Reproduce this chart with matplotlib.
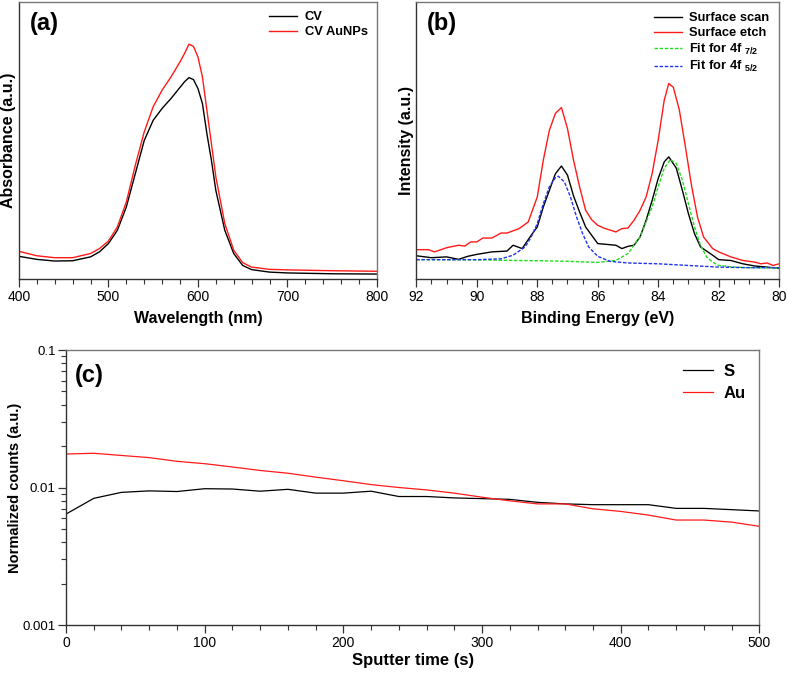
import numpy as np
import matplotlib
matplotlib.use("Agg")
import matplotlib.pyplot as plt
from matplotlib.ticker import MultipleLocator, LogLocator, FixedFormatter, NullFormatter, FixedLocator

plt.rcParams['font.family'] = ['Liberation Sans', 'DejaVu Sans']
plt.rcParams['mathtext.fontset'] = 'custom'
plt.rcParams['mathtext.bf'] = 'Liberation Sans:bold'
plt.rcParams['mathtext.rm'] = 'Liberation Sans'

# (a) UV-vis absorbance
wl = [400, 420, 440, 460, 480, 490, 500, 510, 520, 530, 540, 550, 560, 570, 580,
      585, 590, 595, 600, 605, 610, 615, 620, 630, 640, 650, 660, 680, 700, 750, 800]
abs_cv = [0.082, 0.071, 0.065, 0.066, 0.080, 0.098, 0.128, 0.176, 0.26, 0.38, 0.50,
          0.573, 0.616, 0.652, 0.692, 0.712, 0.727, 0.72, 0.688, 0.634, 0.525, 0.43,
          0.32, 0.176, 0.092, 0.049, 0.034, 0.025, 0.022, 0.019, 0.018]
abs_aunp = [0.100, 0.084, 0.077, 0.077, 0.092, 0.110, 0.137, 0.188, 0.278, 0.41, 0.531,
            0.622, 0.682, 0.730, 0.784, 0.814, 0.848, 0.84, 0.802, 0.73, 0.61, 0.49,
            0.369, 0.20, 0.104, 0.059, 0.043, 0.035, 0.033, 0.030, 0.028]

# (b) XPS Au 4f
be_scan = [92, 91.5, 91, 90.6, 90.3, 90, 89.5, 89, 88.8, 88.5, 88.2, 88, 87.8, 87.6,
           87.4, 87.2, 87.0, 86.8, 86.6, 86.4, 86.0, 85.6, 85.4, 85.2, 85.0, 84.8,
           84.6, 84.4, 84.2, 84.0, 83.8, 83.65, 83.4, 83.2, 83.0, 82.8, 82.6, 82.2,
           82.0, 81.6, 81.2, 80.8, 80.4, 80.0]
i_scan = [0.084, 0.077, 0.080, 0.071, 0.082, 0.089, 0.098, 0.101, 0.122, 0.110, 0.158,
          0.188, 0.26, 0.32, 0.38, 0.408, 0.375, 0.30, 0.242, 0.188, 0.128, 0.124,
          0.122, 0.110, 0.118, 0.122, 0.152, 0.212, 0.284, 0.363, 0.423, 0.441, 0.40,
          0.32, 0.236, 0.164, 0.116, 0.086, 0.070, 0.067, 0.055, 0.047, 0.043, 0.039]
be_etch = [92, 91.6, 91.4, 91.0, 90.6, 90.4, 90.2, 90.0, 89.8, 89.5, 89.2, 89.0, 88.6,
           88.3, 88.0, 87.8, 87.6, 87.4, 87.2, 87.0, 86.8, 86.6, 86.4, 86.2, 86.0,
           85.8, 85.4, 85.2, 85.0, 84.8, 84.6, 84.4, 84.2, 84.0, 83.8, 83.65, 83.5,
           83.3, 83.1, 82.9, 82.7, 82.5, 82.2, 82.0, 81.6, 81.2, 80.8, 80.6, 80.4,
           80.2, 80.0]
i_etch = [0.106, 0.106, 0.098, 0.113, 0.122, 0.119, 0.134, 0.134, 0.148, 0.148, 0.166,
          0.166, 0.182, 0.206, 0.296, 0.429, 0.537, 0.598, 0.619, 0.543, 0.429, 0.333,
          0.248, 0.214, 0.194, 0.184, 0.170, 0.182, 0.184, 0.212, 0.248, 0.296, 0.381,
          0.501, 0.646, 0.706, 0.692, 0.61, 0.477, 0.339, 0.224, 0.152, 0.110, 0.098,
          0.080, 0.067, 0.061, 0.055, 0.058, 0.049, 0.055]
be_fit72 = [92, 90, 88, 87, 86, 85.4, 85.0, 84.6, 84.2, 84.0, 83.8, 83.6, 83.4, 83.2,
            83.0, 82.8, 82.6, 82.4, 82.2, 82.0, 81.5, 81.0, 80.0]
i_fit72 = [0.070, 0.069, 0.066, 0.064, 0.060, 0.067, 0.092, 0.152, 0.26, 0.333, 0.40,
           0.431, 0.417, 0.357, 0.272, 0.188, 0.122, 0.080, 0.061, 0.049, 0.043, 0.041,
           0.040]
be_fit52 = [92, 90, 89.2, 88.8, 88.4, 88.2, 88.0, 87.8, 87.6, 87.4, 87.3, 87.1, 86.9,
            86.7, 86.5, 86.3, 86.0, 85.6, 85.0, 84.0, 83.0, 82.0, 81.0, 80.0]
i_fit52 = [0.070, 0.070, 0.073, 0.086, 0.116, 0.152, 0.20, 0.272, 0.333, 0.366, 0.371,
           0.35, 0.296, 0.224, 0.164, 0.116, 0.082, 0.064, 0.058, 0.055, 0.049, 0.043,
           0.041, 0.041]

# (c) depth profile
t_sputter = [0, 20, 40, 60, 80, 100, 120, 140, 160, 180, 200, 220, 240, 260, 280, 300,
             320, 340, 360, 380, 400, 420, 440, 460, 480, 500]
counts_s = [0.00641, 0.00834, 0.00922, 0.00945, 0.00935, 0.0098, 0.00975, 0.0094,
            0.0097, 0.0091, 0.0091, 0.0094, 0.0086, 0.0086, 0.0084, 0.0083, 0.0082,
            0.0078, 0.0076, 0.0075, 0.0075, 0.0075, 0.00705, 0.00705, 0.0069, 0.00675]
counts_au = [0.01752, 0.01774, 0.0171, 0.0165, 0.0155, 0.0149, 0.0141, 0.0133, 0.0127,
             0.0119, 0.0112, 0.0105, 0.0100, 0.0096, 0.0091, 0.0085, 0.0080, 0.0076,
             0.0076, 0.0070, 0.0067, 0.0063, 0.0058, 0.0058, 0.0056, 0.00522]


def style_frame(ax):
    ax.spines['top'].set_color('#777777')
    ax.spines['right'].set_color('#777777')
    ax.spines['left'].set_color('#333333')
    ax.spines['bottom'].set_color('#333333')
    for s in ax.spines.values():
        s.set_linewidth(1.0)
    ax.tick_params(axis='x', which='major', direction='out', length=6, width=0.9,
                   top=False, labelsize=10, pad=2, colors='#333333', labelcolor='black')
    ax.tick_params(axis='x', which='minor', direction='out', length=3.5, width=0.8,
                   top=False, colors='#333333')


fig = plt.figure(figsize=(7.87, 6.74), dpi=100)

# ---- (a)
ax1 = fig.add_axes([0.024, 0.586, 0.455, 0.411])
ax1.plot(wl, abs_cv, color='black', lw=1.0, label='CV')
ax1.plot(wl, abs_aunp, color='#ff1a1a', lw=1.0, label='CV AuNPs')
ax1.set_xlim(400, 800)
ax1.set_ylim(0, 1.0)
ax1.xaxis.set_major_locator(MultipleLocator(100))
ax1.xaxis.set_minor_locator(MultipleLocator(20))
ax1.set_yticks([])
style_frame(ax1)
ax1.set_xlabel('Wavelength (nm)', fontsize=11.5, fontweight='bold', labelpad=5)
ax1.set_ylabel('Absorbance (a.u.)', fontsize=11.5, fontweight='bold', labelpad=2)
ax1.text(0.03, 0.965, '(a)', transform=ax1.transAxes, fontsize=17, fontweight='bold',
         va='top', ha='left')
ax1.legend(loc='upper right', frameon=False, prop={'weight': 'bold', 'size': 9.3},
           handlelength=2.2, handletextpad=0.6, labelspacing=0.25,
           borderaxespad=0.3)

# ---- (b)
ax2 = fig.add_axes([0.529, 0.586, 0.461, 0.411])
ax2.plot(be_scan, i_scan, color='black', lw=1.0, label='Surface scan')
ax2.plot(be_etch, i_etch, color='#ff1a1a', lw=1.0, label='Surface etch')
ax2.plot(be_fit72, i_fit72, color='#22dd22', lw=1.0, ls=(0, (2.5, 1.2)),
         label=r'Fit for 4f $_{\mathbf{7/2}}$')
ax2.plot(be_fit52, i_fit52, color='#2233ee', lw=1.0, ls=(0, (2.5, 1.2)),
         label=r'Fit for 4f $_{\mathbf{5/2}}$')
ax2.set_xlim(92, 80)
ax2.set_ylim(0, 1.0)
ax2.xaxis.set_major_locator(MultipleLocator(2))
ax2.xaxis.set_minor_locator(MultipleLocator(0.5))
ax2.set_yticks([])
style_frame(ax2)
ax2.set_xlabel('Binding Energy (eV)', fontsize=11.5, fontweight='bold', labelpad=5)
ax2.set_ylabel('Intensity (a.u.)', fontsize=11.5, fontweight='bold', labelpad=2)
ax2.text(0.03, 0.965, '(b)', transform=ax2.transAxes, fontsize=17, fontweight='bold',
         va='top', ha='left')
ax2.legend(loc='upper right', frameon=False, prop={'weight': 'bold', 'size': 9.3},
           handlelength=2.2, handletextpad=0.5, labelspacing=0.2,
           borderaxespad=0.4)

# ---- (c)
ax3 = fig.add_axes([0.0839, 0.0727, 0.881, 0.408])
ax3.plot(t_sputter, counts_s, color='black', lw=0.9, label='S')
ax3.plot(t_sputter, counts_au, color='#ff1a1a', lw=0.9, label='Au')
ax3.set_yscale('log')
ax3.set_xlim(0, 500)
ax3.set_ylim(0.001, 0.1)
ax3.xaxis.set_major_locator(MultipleLocator(100))
ax3.xaxis.set_minor_locator(MultipleLocator(20))
ax3.yaxis.set_major_locator(FixedLocator([0.001, 0.01, 0.1]))
ax3.yaxis.set_major_formatter(FixedFormatter(['0.001', '0.01', '0.1']))
ax3.yaxis.set_minor_locator(LogLocator(base=10, subs=np.arange(2, 10)))
ax3.yaxis.set_minor_formatter(NullFormatter())
style_frame(ax3)
ax3.tick_params(axis='y', which='major', direction='out', length=6, width=0.9,
                right=False, labelsize=9.5, pad=1.5, colors='#333333', labelcolor='black')
ax3.tick_params(axis='y', which='minor', direction='out', length=3.5, width=0.8,
                right=False, colors='#333333')
ax3.set_xlabel('Sputter time (s)', fontsize=12, fontweight='bold', labelpad=2)
ax3.set_ylabel('Normalized counts (a.u.)', fontsize=10.5, fontweight='bold')
ax3.yaxis.set_label_coords(-0.064, 0.5)
ax3.text(0.013, 0.95, '(c)', transform=ax3.transAxes, fontsize=17, fontweight='bold',
         va='top', ha='left')
ax3.legend(loc='upper right', frameon=False, prop={'weight': 'bold', 'size': 12},
           handlelength=1.8, handletextpad=0.6, labelspacing=0.4,
           borderaxespad=0.45)

fig.savefig('out.png', dpi=100)
